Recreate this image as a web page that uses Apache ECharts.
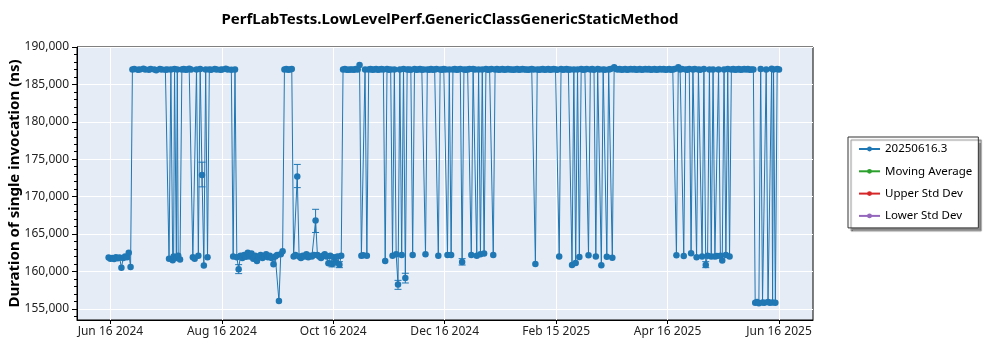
<!DOCTYPE html>
<html>
<head>
<meta charset="utf-8">
<script src="https://cdn.jsdelivr.net/npm/echarts@6/dist/echarts.min.js"></script>
<style>
  html, body { margin: 0; padding: 0; background: #fff; }
  #chart { width: 1000px; height: 350px; }
</style>
</head>
<body>
<div id="chart"></div>
<script>
// Benchmark run results: [run date, mean duration in ns]
const invocationDurations = [
  ['2024-06-15', 161850], ['2024-06-16', 161700], ['2024-06-17', 161800], ['2024-06-18', 161650],
  ['2024-06-19', 161900], ['2024-06-20', 161750], ['2024-06-21', 161850], ['2024-06-22', 160500],
  ['2024-06-23', 161800], ['2024-06-24', 162000], ['2024-06-25', 161900], ['2024-06-26', 162500],
  ['2024-06-27', 160600],
  ['2024-06-28', 187000], ['2024-06-29', 187050], ['2024-07-01', 186950], ['2024-07-02', 187000],
  ['2024-07-04', 187100], ['2024-07-05', 187000], ['2024-07-07', 186950], ['2024-07-08', 187050],
  ['2024-07-10', 187000], ['2024-07-11', 186900], ['2024-07-13', 187050], ['2024-07-14', 187000],
  ['2024-07-16', 186950], ['2024-07-17', 187000],
  ['2024-07-18', 161700], ['2024-07-19', 187000], ['2024-07-20', 161500], ['2024-07-20 12:00', 162000],
  ['2024-07-21', 187050], ['2024-07-22', 161800], ['2024-07-22 12:00', 187000], ['2024-07-23', 162100],
  ['2024-07-24', 161600],
  ['2024-07-25', 187000], ['2024-07-26', 187050], ['2024-07-27', 186950], ['2024-07-28', 187000],
  ['2024-07-29', 187100], ['2024-07-30', 187000],
  ['2024-07-31', 161900], ['2024-08-01', 161700], ['2024-08-02', 187000], ['2024-08-03', 162100],
  ['2024-08-04', 187050], ['2024-08-05', 172900], ['2024-08-06', 160800], ['2024-08-07', 187000],
  ['2024-08-08', 161900],
  ['2024-08-09', 187000], ['2024-08-10', 186950], ['2024-08-12', 187050], ['2024-08-13', 187000],
  ['2024-08-15', 186950], ['2024-08-16', 187000], ['2024-08-18', 187100], ['2024-08-19', 187000],
  ['2024-08-21', 186950],
  ['2024-08-22', 162000], ['2024-08-23', 187000], ['2024-08-24', 161900], ['2024-08-25', 160300],
  ['2024-08-26', 162100], ['2024-08-27', 161800], ['2024-08-28', 162200], ['2024-08-29', 161950],
  ['2024-08-30', 162500], ['2024-08-31', 162000], ['2024-09-01', 162400], ['2024-09-02', 161700],
  ['2024-09-03', 162100], ['2024-09-04', 161400], ['2024-09-05', 162000], ['2024-09-06', 162200],
  ['2024-09-07', 161800], ['2024-09-08', 162000], ['2024-09-09', 162300], ['2024-09-10', 161900],
  ['2024-09-11', 162100], ['2024-09-12', 161800], ['2024-09-13', 160960], ['2024-09-14', 162000],
  ['2024-09-15', 162200], ['2024-09-16', 156040], ['2024-09-17', 162300], ['2024-09-18', 162700],
  ['2024-09-19', 187000], ['2024-09-20', 187050], ['2024-09-21', 186950], ['2024-09-22', 187000],
  ['2024-09-23', 187050],
  ['2024-09-24', 162000], ['2024-09-25', 162200], ['2024-09-26', 172700], ['2024-09-27', 162000],
  ['2024-09-28', 161800], ['2024-09-29', 162100], ['2024-09-30', 162000], ['2024-10-01', 162300],
  ['2024-10-02', 161900], ['2024-10-03', 162100], ['2024-10-04', 162000], ['2024-10-05', 162200],
  ['2024-10-06', 166800], ['2024-10-07', 162200], ['2024-10-08', 162000], ['2024-10-09', 161800],
  ['2024-10-10', 162100], ['2024-10-11', 162300], ['2024-10-12', 162000], ['2024-10-13', 161100],
  ['2024-10-14', 162100], ['2024-10-15', 161000], ['2024-10-16', 161900], ['2024-10-17', 161200],
  ['2024-10-18', 162000], ['2024-10-19', 160900], ['2024-10-20', 162100],
  ['2024-10-21', 187000], ['2024-10-22', 187050], ['2024-10-23', 186950], ['2024-10-24', 186950],
  ['2024-10-25', 187000], ['2024-10-26', 187000], ['2024-10-27', 186950], ['2024-10-28', 187050],
  ['2024-10-29', 187000], ['2024-10-30', 187600], ['2024-10-31', 162100], ['2024-11-01', 162150],
  ['2024-11-02', 187000], ['2024-11-03', 162100], ['2024-11-04', 187000], ['2024-11-05', 187050],
  ['2024-11-06', 186950], ['2024-11-07', 187000], ['2024-11-08', 187050], ['2024-11-09', 186950],
  ['2024-11-10', 187000], ['2024-11-11', 187050], ['2024-11-12', 187000], ['2024-11-13', 161400],
  ['2024-11-14', 187050], ['2024-11-15', 186950], ['2024-11-16', 187000], ['2024-11-17', 162100], ['2024-11-18', 187000],
  ['2024-11-19', 162300], ['2024-11-20', 158230], ['2024-11-21', 187000], ['2024-11-22', 162200],
  ['2024-11-23', 187050], ['2024-11-24', 159100], ['2024-11-25', 187000], ['2024-11-26', 187000],
  ['2024-11-27', 186950], ['2024-11-28', 162200], ['2024-11-29', 187050], ['2024-11-30', 186950],
  ['2024-12-01', 187000], ['2024-12-02', 187050], ['2024-12-03', 186950], ['2024-12-04', 187000],
  ['2024-12-05', 162300], ['2024-12-06', 187000], ['2024-12-07', 186950], ['2024-12-08', 187050],
  ['2024-12-09', 186950], ['2024-12-10', 187000], ['2024-12-11', 187050],
  ['2024-12-12', 162100], ['2024-12-13', 187000], ['2024-12-14', 186950], ['2024-12-15', 187050],
  ['2024-12-16', 187000], ['2024-12-17', 162200],
  ['2024-12-18', 187000], ['2024-12-19', 162200], ['2024-12-20', 187000], ['2024-12-21', 187050],
  ['2024-12-22', 186950], ['2024-12-23', 187000],
  ['2024-12-24', 187050], ['2024-12-25', 161260], ['2024-12-26', 187000], ['2024-12-27', 186950],
  ['2024-12-28', 187000], ['2024-12-29', 187050],
  ['2024-12-30', 162200], ['2024-12-31', 187050], ['2025-01-01', 187000], ['2025-01-02', 162100],
  ['2025-01-03', 187000], ['2025-01-04', 162300], ['2025-01-05', 187000], ['2025-01-06', 162400],
  ['2025-01-07', 187050], ['2025-01-08', 186950], ['2025-01-09', 187000], ['2025-01-10', 187050],
  ['2025-01-11', 162200], ['2025-01-12', 187000], ['2025-01-13', 187050],
  ['2025-01-14', 186950], ['2025-01-15', 187000], ['2025-01-16', 187050], ['2025-01-17', 186950],
  ['2025-01-18', 187000], ['2025-01-19', 187050], ['2025-01-20', 187000], ['2025-01-21', 187000],
  ['2025-01-22', 186950], ['2025-01-23', 187000], ['2025-01-24', 187050], ['2025-01-25', 186950],
  ['2025-01-26', 187000], ['2025-01-27', 187050], ['2025-01-28', 187000], ['2025-01-29', 187000],
  ['2025-01-30', 186950], ['2025-01-31', 187000], ['2025-02-01', 187050], ['2025-02-02', 187000],
  ['2025-02-03', 161000], ['2025-02-04', 187000], ['2025-02-05', 186950],
  ['2025-02-06', 187000], ['2025-02-07', 187050], ['2025-02-08', 186950], ['2025-02-09', 187000],
  ['2025-02-10', 187050], ['2025-02-11', 186950], ['2025-02-12', 187000], ['2025-02-13', 187050],
  ['2025-02-14', 187000], ['2025-02-15', 186950], ['2025-02-16', 162000], ['2025-02-17', 187050],
  ['2025-02-18', 186950], ['2025-02-19', 187000], ['2025-02-20', 187050],
  ['2025-02-21', 186950], ['2025-02-22', 187000], ['2025-02-23', 160860], ['2025-02-24', 187000], ['2025-02-25', 161120],
  ['2025-02-26', 187000], ['2025-02-27', 161930], ['2025-02-28', 187050], ['2025-03-01', 186950],
  ['2025-03-02', 187000], ['2025-03-03', 187050],
  ['2025-03-04', 162150], ['2025-03-05', 187000], ['2025-03-06', 187050], ['2025-03-07', 186950],
  ['2025-03-08', 162000], ['2025-03-09', 187050], ['2025-03-10', 187000], ['2025-03-11', 160820],
  ['2025-03-12', 187000], ['2025-03-13', 186950], ['2025-03-14', 161950],
  ['2025-03-15', 187000], ['2025-03-16', 187050], ['2025-03-17', 161830], ['2025-03-18', 187300],
  ['2025-03-19', 187050], ['2025-03-20', 187000], ['2025-03-21', 187050],
  ['2025-03-22', 186950], ['2025-03-23', 187000], ['2025-03-24', 187050], ['2025-03-25', 186950],
  ['2025-03-26', 187000], ['2025-03-27', 187050], ['2025-03-28', 187000], ['2025-03-29', 187050],
  ['2025-03-30', 186950], ['2025-03-31', 187000], ['2025-04-01', 187050], ['2025-04-02', 186950],
  ['2025-04-03', 187000], ['2025-04-04', 187050], ['2025-04-05', 187000], ['2025-04-06', 187050],
  ['2025-04-07', 186950], ['2025-04-08', 187000], ['2025-04-09', 187050], ['2025-04-10', 186950],
  ['2025-04-11', 187000], ['2025-04-12', 187050], ['2025-04-13', 187000], ['2025-04-14', 187050],
  ['2025-04-15', 186950], ['2025-04-16', 187000], ['2025-04-17', 187050], ['2025-04-18', 186950],
  ['2025-04-19', 187000], ['2025-04-20', 187050], ['2025-04-21', 162150],
  ['2025-04-22', 187300], ['2025-04-23', 187000], ['2025-04-24', 187050], ['2025-04-25', 162050], ['2025-04-26', 187000],
  ['2025-04-27', 186950], ['2025-04-28', 187050], ['2025-04-29', 162420], ['2025-04-30', 187000],
  ['2025-05-01', 187050], ['2025-05-02', 161900],
  ['2025-05-03', 187000], ['2025-05-04', 186950], ['2025-05-05', 162000], ['2025-05-06', 187050],
  ['2025-05-07', 160860], ['2025-05-08', 162100], ['2025-05-09', 187000], ['2025-05-10', 162000],
  ['2025-05-11', 187000], ['2025-05-12', 162000], ['2025-05-13', 162050], ['2025-05-14', 187000],
  ['2025-05-15', 162100], ['2025-05-16', 161470], ['2025-05-17', 187000], ['2025-05-18', 162200],
  ['2025-05-19', 187050], ['2025-05-20', 162000], ['2025-05-21', 187000], ['2025-05-22', 187050],
  ['2025-05-23', 186950], ['2025-05-24', 187000], ['2025-05-25', 187050], ['2025-05-26', 186950],
  ['2025-05-27', 187000], ['2025-05-28', 187050], ['2025-05-29', 187000], ['2025-05-30', 187050],
  ['2025-05-31', 186950], ['2025-06-01', 187000],
  ['2025-06-02', 187000], ['2025-06-03', 155800], ['2025-06-04', 155900], ['2025-06-05', 155750],
  ['2025-06-06', 187050], ['2025-06-07', 155850], ['2025-06-08', 155800], ['2025-06-09', 187000],
  ['2025-06-10', 155900], ['2025-06-11', 155800], ['2025-06-12', 187100], ['2025-06-12 12:00', 155850],
  ['2025-06-13', 187000], ['2025-06-14', 155800], ['2025-06-15', 187050], ['2025-06-16', 187000]
];

// Runs with a visible spread: [run date, lower bound, upper bound]
const errorRanges = [
  ['2024-08-05', 171300, 174600],
  ['2024-08-25', 159700, 160900],
  ['2024-09-26', 171200, 174300],
  ['2024-10-06', 165200, 168300],
  ['2024-10-15', 160600, 161400],
  ['2024-10-19', 160500, 161300],
  ['2024-11-20', 157600, 158800],
  ['2024-11-24', 158450, 159750],
  ['2024-12-25', 160850, 161700],
  ['2025-05-07', 160500, 161300]
];

const xTickLabels = ['Jun 16 2024', 'Aug 16 2024', 'Oct 16 2024', 'Dec 16 2024', 'Feb 15 2025', 'Apr 16 2025', 'Jun 16 2025'];
const yTickValues = [155000, 160000, 165000, 170000, 175000, 180000, 185000, 190000];
const yMinorTickValues = [154000, 156000, 157000, 158000, 159000, 161000, 162000, 163000, 164000,
  166000, 167000, 168000, 169000, 171000, 172000, 173000, 174000, 176000, 177000, 178000, 179000,
  181000, 182000, 183000, 184000, 186000, 187000, 188000, 189000];
const seriesNames = ['20250616.3', 'Moving Average', 'Upper Std Dev', 'Lower Std Dev'];
const seriesColors = ['#1f77b4', '#2ca02c', '#d62728', '#9467bd'];

// 'YYYY-MM-DD' or 'YYYY-MM-DD HH:mm' -> local timestamp
function toTime(s) {
  const [datePart, timePart] = s.split(' ');
  const [y, m, d] = datePart.split('-').map(Number);
  const [hh, mm] = (timePart || '00:00').split(':').map(Number);
  return new Date(y, m - 1, d, hh, mm).getTime();
}
const lineData = invocationDurations.map(([d, v]) => [toTime(d), v]);
const errorData = errorRanges.map(([d, lo, hi]) => [toTime(d), lo, hi]);

// x ticks: evenly spaced across one year
const firstTick = toTime('2024-06-16');
const lastTick = toTime('2025-06-16');
const tickStep = (lastTick - firstTick) / (xTickLabels.length - 1);
const xTickValues = xTickLabels.map((_, i) => firstTick + i * tickStep);
const xMin = firstTick - 0.3 * tickStep;
const xMax = lastTick + 0.305 * tickStep;

const FONT = '"Noto Sans", "Open Sans", sans-serif';
const chart = echarts.init(document.getElementById('chart'), null, { renderer: 'canvas' });

const thousands = v => Math.round(v).toLocaleString('en-US');

chart.setOption({
  animation: false,
  backgroundColor: '#ffffff',
  title: {
    text: 'PerfLabTests.LowLevelPerf.GenericClassGenericStaticMethod',
    left: 445,
    top: 7,
    textAlign: 'center',
    textStyle: { fontFamily: FONT, fontSize: 15, fontWeight: 'bold', color: '#000' }
  },
  grid: {
    left: 77, right: 187, top: 47, bottom: 30,
    outerBoundsMode: 'none',
    containLabel: false,
    show: true,
    backgroundColor: '#E5ECF6',
    borderColor: '#000',
    borderWidth: 1
  },
  legend: {
    orient: 'vertical',
    left: 848,
    top: 137,
    data: seriesNames,
    itemWidth: 21,
    itemHeight: 6,
    itemGap: 8.3,
    padding: [5, 6, 5, 10],
    backgroundColor: '#ffffff',
    borderColor: '#333',
    borderWidth: 1,
    shadowColor: 'rgba(0,0,0,0.45)',
    shadowBlur: 1,
    shadowOffsetX: 3,
    shadowOffsetY: 3,
    textStyle: { fontFamily: FONT, fontSize: 11.5, lineHeight: 14, color: '#000' }
  },
  xAxis: {
    type: 'value',
    min: xMin,
    max: xMax,
    axisLine: { show: true, lineStyle: { color: '#000' } },
    axisTick: { show: true, customValues: xTickValues, length: 4, lineStyle: { color: '#000' } },
    axisLabel: {
      customValues: xTickValues,
      margin: 6,
      fontFamily: FONT,
      fontSize: 12,
      color: '#222',
      formatter: function (v) {
        let best = 0;
        xTickValues.forEach((t, i) => { if (Math.abs(t - v) < Math.abs(xTickValues[best] - v)) best = i; });
        return xTickLabels[best];
      }
    },
    splitLine: { show: true, lineStyle: { color: '#ffffff', width: 1 } }
  },
  yAxis: [{
    type: 'value',
    position: 'left',
    min: 153500,
    max: 190000,
    name: 'Duration of single invocation (ns)',
    nameLocation: 'middle',
    nameGap: 55,
    nameMoveOverlap: false,
    nameTextStyle: { fontFamily: FONT, fontSize: 15, fontWeight: 'bold', color: '#000' },
    axisLine: { show: true, lineStyle: { color: '#000' } },
    axisTick: { show: true, customValues: yTickValues, length: 5, lineStyle: { color: '#000' } },
    axisLabel: {
      customValues: yTickValues,
      margin: 8,
      fontFamily: FONT,
      fontSize: 12,
      color: '#222',
      formatter: thousands
    },
    splitLine: { show: true, lineStyle: { color: '#ffffff', width: 1 } }
  }, {
    type: 'value',
    position: 'left',
    min: 153500,
    max: 190000,
    axisLine: { show: false },
    axisTick: { show: true, customValues: yMinorTickValues, length: 3, lineStyle: { color: '#000' } },
    axisLabel: { show: false },
    splitLine: { show: false }
  }],
  series: [{
    name: seriesNames[0],
    type: 'line',
    data: lineData,
    color: seriesColors[0],
    symbol: 'circle',
    symbolSize: 6.5,
    showSymbol: true,
    showAllSymbol: true,
    lineStyle: { width: 1, color: seriesColors[0] },
    itemStyle: { color: seriesColors[0] },
    z: 3
  }, {
    name: 'error',
    type: 'custom',
    data: errorData,
    encode: { x: 0, y: [1, 2] },
    z: 4,
    renderItem: function (params, api) {
      const x = api.value(0);
      const lo = api.coord([x, api.value(1)]);
      const hi = api.coord([x, api.value(2)]);
      const half = 3.5;
      const style = { stroke: seriesColors[0], lineWidth: 1 };
      return {
        type: 'group',
        children: [
          { type: 'line', shape: { x1: lo[0], y1: lo[1], x2: hi[0], y2: hi[1] }, style },
          { type: 'line', shape: { x1: lo[0] - half, y1: lo[1], x2: lo[0] + half, y2: lo[1] }, style },
          { type: 'line', shape: { x1: hi[0] - half, y1: hi[1], x2: hi[0] + half, y2: hi[1] }, style }
        ]
      };
    }
  }].concat(seriesNames.slice(1).map((name, i) => ({
    name: name,
    type: 'line',
    data: [],
    color: seriesColors[i + 1],
    symbol: 'circle',
    symbolSize: 6,
    lineStyle: { width: 1, color: seriesColors[i + 1] },
    itemStyle: { color: seriesColors[i + 1] }
  })))
});
</script>
</body>
</html>
